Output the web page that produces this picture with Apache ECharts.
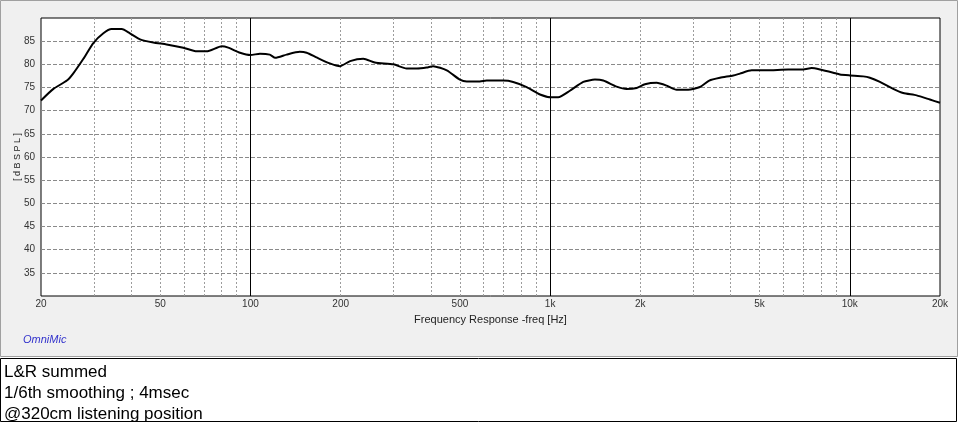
<!DOCTYPE html>
<html>
<head>
    <meta charset="utf-8">
    <title>Frequency Response</title>
    <script src="https://cdn.jsdelivr.net/npm/echarts@6/dist/echarts.min.js"></script>
    <style>
        html, body { margin: 0; padding: 0; background: #fff; }
        #main { width: 960px; height: 423px; }
    </style>
</head>
<body>
<div id="main"></div>
<script type="text/javascript">
    var freq = [20, 22, 24.4, 25.6, 27.7, 29.9, 32.3, 34.4, 37.2, 39.6, 42.8, 47.4, 52.5, 59.7, 66.2, 71.4, 80.2, 84.3, 92.3,
        100, 107.6, 116, 121, 132, 146, 154, 166, 184, 199, 215, 238, 260, 300, 332, 359, 387, 407, 452, 500, 527, 583, 614, 698, 753, 835, 925,
        1012, 1064, 1164, 1290, 1411, 1504, 1667, 1800, 1944, 2072, 2267, 2448, 2643, 2890, 3162, 3396, 3688, 4084, 4298, 4704, 5278, 6230, 6990, 7458, 7952, 8804, 9268,
        10012, 11086, 11668, 12604, 13960, 15078, 16712, 18508, 20000];
    var spl = [72.2, 74.7, 76.5, 78.0, 81.2, 84.6, 86.7, 87.6, 87.6, 86.7, 85.4, 84.7, 84.3, 83.6, 82.8, 82.8, 83.9, 83.6, 82.5,
        82.0, 82.3, 82.1, 81.4, 82.1, 82.7, 82.5, 81.5, 80.2, 79.6, 80.7, 81.2, 80.4, 80.0, 79.1, 79.1, 79.3, 79.6, 78.7, 76.7, 76.3, 76.3, 76.5, 76.5, 76.2, 75.1, 73.5,
        72.9, 72.9, 74.3, 76.2, 76.7, 76.5, 75.2, 74.7, 74.9, 75.7, 76.0, 75.4, 74.5, 74.5, 75.1, 76.5, 77.1, 77.6, 78.0, 78.7, 78.7, 78.9, 78.9, 79.2, 78.9, 78.2, 77.8,
        77.6, 77.4, 77.1, 76.2, 74.7, 73.8, 73.3, 72.4, 71.7];

    // axis ticks
    var xLabelFreqs = [20, 50, 100, 200, 500, 1000, 2000, 5000, 10000, 20000];
    var xGridFreqs = [30, 40, 50, 60, 70, 80, 90, 200, 300, 400, 500, 600, 700, 800, 900,
        2000, 3000, 4000, 5000, 6000, 7000, 8000, 9000];
    var xDecades = [100, 1000, 10000];
    var yTicks = [35, 40, 45, 50, 55, 60, 65, 70, 75, 80, 85];

    var notes = ['L&R summed', '1/6th smoothing ; 4msec', '@320cm listening position'];

    var lg = function (f) { return Math.log10(f); };

    var myChart = echarts.init(document.getElementById('main'));

    var narrow = '"Liberation Sans Narrow", "Liberation Sans", sans-serif';

    var fmtFreq = function (v) {
        var f = Math.round(Math.pow(10, v));
        return f >= 1000 ? (f / 1000) + 'k' : String(f);
    };

    var noteTexts = notes.map(function (t, i) {
        return {
            type: 'text', z: 10, left: 4, top: 364 + i * 21,
            style: { text: t, fill: '#000', font: '17px "Liberation Sans", Arial, sans-serif' }
        };
    });

    option = {
        animation: false,
        graphic: [
            { type: 'rect', z: -10, shape: { x: 0.5, y: 0.5, width: 957, height: 356 },
              style: { fill: '#f0f0f0', stroke: '#a0a0a0', lineWidth: 1 } },
            { type: 'rect', z: -10, shape: { x: 0.5, y: 358.5, width: 956, height: 63 },
              style: { fill: '#fff', stroke: '#000', lineWidth: 1 } },
            { type: 'text', z: 10, left: 23, top: 334,
              style: { text: 'OmniMic', fill: '#3333cc', font: 'italic 11px ' + narrow } }
        ].concat(noteTexts),
        grid: {
            left: 41, right: 20, top: 18, bottom: 127,
            outerBoundsMode: 'none',
            show: true, backgroundColor: '#fff', borderColor: '#000', borderWidth: 1
        },
        xAxis: {
            type: 'value',
            min: lg(20), max: lg(20000),
            name: 'Frequency Response -freq [Hz]',
            nameLocation: 'middle', nameGap: 18, nameMoveOverlap: false,
            nameTextStyle: { color: '#222', fontSize: 11, fontFamily: narrow },
            axisLine: { show: false },
            axisTick: { show: false, customValues: xGridFreqs.map(lg) },
            axisLabel: {
                customValues: xLabelFreqs.map(lg),
                formatter: fmtFreq, margin: 3,
                color: '#333', fontSize: 10, fontFamily: narrow
            },
            splitLine: { show: true, lineStyle: { color: '#9c9c9c', type: [2, 2], width: 1 } }
        },
        yAxis: {
            type: 'value',
            min: 30, max: 90,
            name: '[ d B S P L ]',
            nameLocation: 'middle', nameGap: 19, nameRotate: 90, nameMoveOverlap: false,
            nameTextStyle: { color: '#222', fontSize: 9, fontFamily: narrow },
            axisLine: { show: false },
            axisTick: { show: false, customValues: yTicks },
            axisLabel: {
                customValues: yTicks, margin: 6,
                color: '#333', fontSize: 10, fontFamily: narrow
            },
            splitLine: { show: true, lineStyle: { color: '#8a8a8a', type: [4, 2], width: 1 } }
        },
        series: [{
            type: 'line',
            data: freq.map(function (f, i) { return [lg(f), spl[i]]; }),
            smooth: 0.2,
            showSymbol: false,
            lineStyle: { color: '#000', width: 2 },
            markLine: {
                silent: true,
                symbol: 'none',
                label: { show: false },
                lineStyle: { color: '#000', type: 'solid', width: 1 },
                data: xDecades.map(function (f) { return { xAxis: lg(f) }; })
            }
        }]
    };

    myChart.setOption(option);
</script>
</body>
</html>
